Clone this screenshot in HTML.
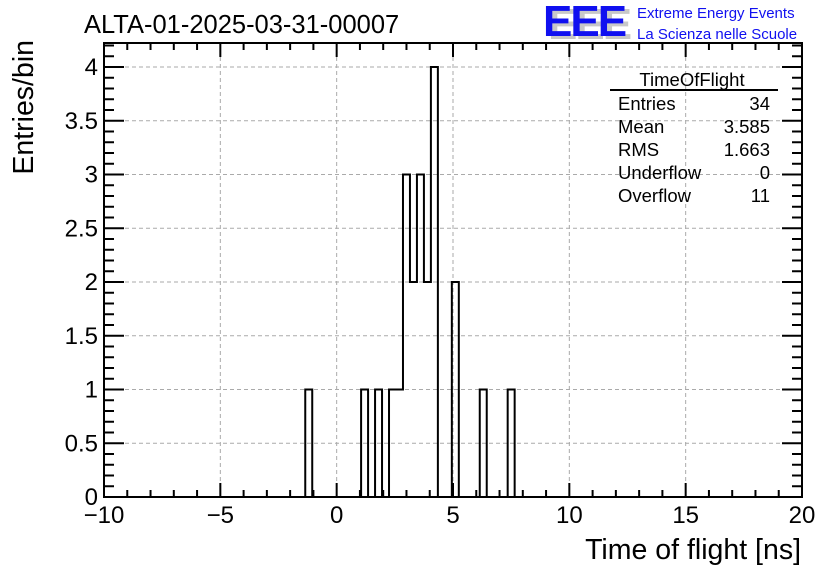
<!DOCTYPE html>
<html><head><meta charset="utf-8"><style>
body{margin:0;background:#fff;}
svg{display:block;font-family:"Liberation Sans",sans-serif;}
</style></head><body>
<svg id="c" width="836" height="572" viewBox="0 0 836 572">
<text x="84" y="33" font-size="25.5">ALTA-01-2025-03-31-00007</text>
<g>
<text x="548" y="39" font-size="44" font-weight="bold" fill="#c8c8c8" letter-spacing="-2">EEE</text>
<text x="543" y="36" font-size="44" font-weight="bold" fill="#1010f0" letter-spacing="-2">EEE</text>
<text x="637" y="18" font-size="15" fill="#1010f0">Extreme Energy Events</text>
<text x="637" y="39" font-size="15" fill="#1010f0">La Scienza nelle Scuole</text>
</g>
<g id="grid"></g>
<g id="axes"></g>
<path id="hist" fill="none" stroke="#000" stroke-width="2"/>
<rect x="104" y="43" width="698" height="454" fill="none" stroke="#000" stroke-width="2"/>
<g font-size="18.5">
<text x="692" y="86" text-anchor="middle">TimeOfFlight</text>
<line x1="610" y1="90" x2="778" y2="90" stroke="#000" stroke-width="2"/>
<text x="618" y="110">Entries</text><text x="770" y="110" text-anchor="end">34</text>
<text x="618" y="133">Mean</text><text x="770" y="133" text-anchor="end">3.585</text>
<text x="618" y="156">RMS</text><text x="770" y="156" text-anchor="end">1.663</text>
<text x="618" y="179">Underflow</text><text x="770" y="179" text-anchor="end">0</text>
<text x="618" y="202">Overflow</text><text x="770" y="202" text-anchor="end">11</text>
</g>
<text x="801" y="559" font-size="28.5" text-anchor="end">Time of flight [ns]</text>
<text transform="translate(33,40) rotate(-90)" font-size="28.5" text-anchor="end">Entries/bin</text>
</svg>
<script>
const binCenters=[-1.2,1.2,1.8,2.4,2.7,3.0,3.3,3.6,3.9,4.2,5.1,6.3,7.5];
const binCounts=[1,1,1,1,1,3,2,3,2,4,2,1,1];
const binWidth=0.3;
const xTicks=[-10,-5,0,5,10,15,20];
const xTickLabels=["\u221210","\u22125","0","5","10","15","20"];
const yTicks=[0,0.5,1,1.5,2,2.5,3,3.5,4];
const yTickLabels=["0","0.5","1","1.5","2","2.5","3","3.5","4"];
const X0=104,X1=802,Y0=497,Y1=43,xmin=-10,xmax=20,ymax=4.2233;
const sx=v=>X0+(v-xmin)/(xmax-xmin)*(X1-X0);
const sy=v=>Y0-v/ymax*(Y0-Y1);
const NS="http://www.w3.org/2000/svg";
const grid=document.getElementById('grid'),axes=document.getElementById('axes');
function mk(tag,attrs,parent){const e=document.createElementNS(NS,tag);for(const k in attrs)e.setAttribute(k,attrs[k]);parent.appendChild(e);return e;}
xTicks.forEach((t,i)=>{
 const x=sx(t);
 if(t>xmin&&t<xmax){const g=mk('line',{x1:x,x2:x,y1:Y1,y2:Y0,stroke:'#aaa','stroke-dasharray':'4,3'},grid);
 
 }
 const l=mk('text',{x:x,y:523,'font-size':24,'text-anchor':'middle'},axes);l.textContent=xTickLabels[i];
 
 
});
for(let v=xmin;v<=xmax;v++){const x=sx(v),len=v%5===0?14:7;
 mk('line',{x1:x,x2:x,y1:Y0,y2:Y0-len,stroke:'#000','stroke-width':2},axes);
 mk('line',{x1:x,x2:x,y1:Y1,y2:Y1+len,stroke:'#000','stroke-width':2},axes);}
yTicks.forEach((t,i)=>{
 const y=sy(t);
 if(t>0){const g=mk('line',{x1:X0,x2:X1,y1:y,y2:y,stroke:'#aaa','stroke-dasharray':'4,3'},grid);
 
 }
 const l=mk('text',{x:98,y:y+8,'font-size':24,'text-anchor':'end'},axes);l.textContent=yTickLabels[i];
 
 
});
for(let k=0;k<=42;k++){const v=k/10,y=sy(v),len=k%5===0?20:10;
 mk('line',{x1:X0,x2:X0+len,y1:y,y2:y,stroke:'#000','stroke-width':2},axes);
 mk('line',{x1:X1,x2:X1-len,y1:y,y2:y,stroke:'#000','stroke-width':2},axes);}
const idx=binCenters.map((c,i)=>i).sort((a,b)=>binCenters[a]-binCenters[b]);
let d='M'+X0+','+Y0;let prevR=null;
idx.forEach(i=>{const l=binCenters[i]-binWidth/2,r=binCenters[i]+binWidth/2;
 if(prevR!==null&&Math.abs(l-prevR)>1e-6){d+=' L'+sx(prevR)+','+Y0+' L'+sx(l)+','+Y0;}
 else if(prevR===null){d+=' L'+sx(l)+','+Y0;}
 d+=' L'+sx(l)+','+sy(binCounts[i])+' L'+sx(r)+','+sy(binCounts[i]);prevR=r;});
d+=' L'+sx(prevR)+','+Y0+' L'+X1+','+Y0;
document.getElementById('hist').setAttribute('d',d);
</script>
</body></html>
